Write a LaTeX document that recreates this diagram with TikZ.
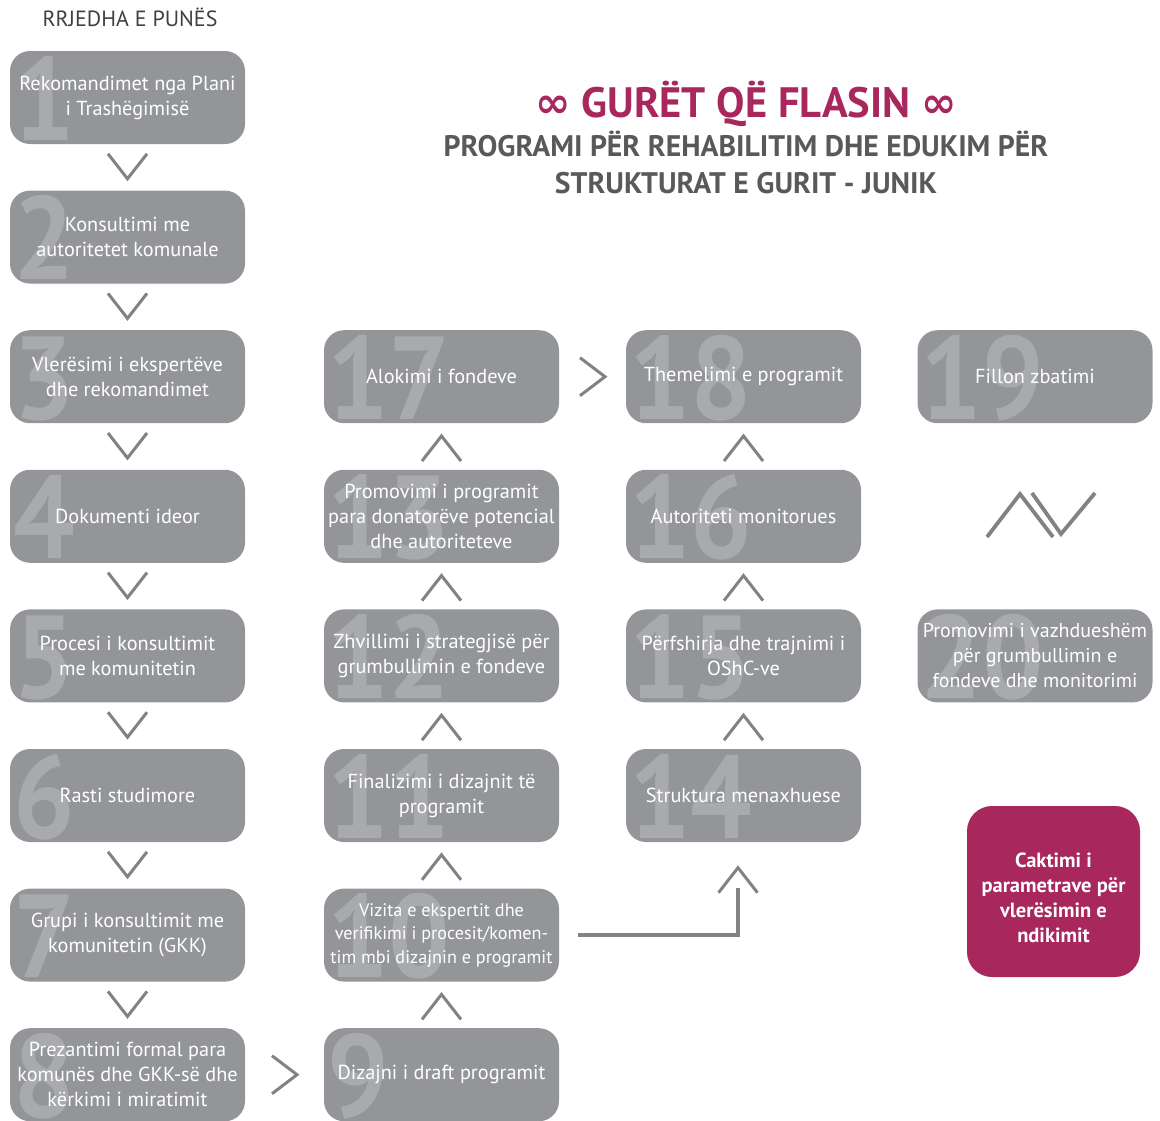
\documentclass[tikz,border=0pt]{standalone}
\usepackage{fontspec}
\setmainfont{PT Sans}
\newfontfamily\symfont{DejaVu Sans}
\usetikzlibrary{calc}
\definecolor{boxgray}{HTML}{939598}
\definecolor{numgray}{HTML}{A8AAAD}
\definecolor{chevgray}{HTML}{808285}
\definecolor{brandmag}{HTML}{A8285D}
\definecolor{titlegray}{HTML}{58595B}
\definecolor{headgray}{HTML}{404041}
\begin{document}
\begin{tikzpicture}[x=1pt,y=-1pt,
  box/.style={rounded corners=20pt, fill=boxgray, minimum width=235pt, minimum height=93pt,
    inner sep=0pt, align=center, text=white, font=\fontsize{20.3}{25}\selectfont,
    path picture={\node[anchor=base west, inner sep=0pt, outer sep=0pt, minimum width=0pt,
      minimum height=0pt, fill=none, draw=none, align=left, text=numgray,
      font=\fontsize{118}{118}\selectfont\bfseries]
      at ([xshift=3pt,yshift=4pt]path picture bounding box.south west) {\scalebox{0.92}[1]{#1}};}},
  box/.default={},
  chev/.style={draw=chevgray, line width=3pt},
  pics/vdown/.style={code={\draw[chev] (-19.5,-12.5) -- (0,12.5) -- (19.5,-12.5);}},
  pics/vup/.style={code={\draw[chev] (-19.5,12.5) -- (0,-12.5) -- (19.5,12.5);}},
  pics/vright/.style={code={\draw[chev] (-12.5,-19) -- (12.5,0) -- (-12.5,19);}},
]
\useasboundingbox (0,0) rectangle (1160,1120);

% header and title
\node[font=\fontsize{22}{24}\selectfont, text=headgray] (head) at (130,17) {RRJEDHA E PUNËS};
\node[font=\fontsize{42.5}{44}\selectfont\bfseries, text=brandmag] (title) at (746,104)
  {{\symfont ∞} GURËT QË FLASIN {\symfont ∞}};
\node[font=\fontsize{29.7}{37}\selectfont\bfseries, text=titlegray, align=center] (sub) at (746,162)
  {PROGRAMI PËR REHABILITIM DHE EDUKIM PËR\\STRUKTURAT E GURIT - JUNIK};

% column 1
\node[box=1] (b1) at (127.5,97.5) {Rekomandimet nga Plani\\i Trashëgimisë};
\node[box=2] (b2) at (127.5,237.1) {Konsultimi me\\autoritetet komunale};
\node[box=3] (b3) at (127.5,376.7) {Vlerësimi i ekspertëve\\dhe rekomandimet};
\node[box=4] (b4) at (127.5,516.3) {Dokumenti ideor};
\node[box=5] (b5) at (127.5,655.9) {Procesi i konsultimit\\me komunitetin};
\node[box=6] (b6) at (127.5,795.5) {Rasti studimore};
\node[box=7] (b7) at (127.5,935.1) {Grupi i konsultimit me\\komunitetin (GKK)};
\node[box=8] (b8) at (127.5,1074.7) {Prezantimi formal para\\komunës dhe GKK-së dhe\\kërkimi i miratimit};

% column 2
\node[box=9] (b9) at (441.5,1074.7) {Dizajni i draft programit};
\node[box=10, font=\fontsize{18.2}{23.5}\selectfont] (b10) at (441.5,935.1)
  {Vizita e ekspertit dhe\\verifikimi i procesit/komen-\\tim mbi dizajnin e programit};
\node[box=11] (b11) at (441.5,795.5) {Finalizimi i dizajnit të\\programit};
\node[box=12] (b12) at (441.5,655.9) {Zhvillimi i strategjisë për\\grumbullimin e fondeve};
\node[box=13] (b13) at (441.5,516.3) {Promovimi i programit\\para donatorëve potencial\\dhe autoriteteve};
\node[box=17] (b17) at (441.5,376.7) {Alokimi i fondeve};

% column 3
\node[box=14] (b14) at (743.5,795.5) {Struktura menaxhuese};
\node[box=15] (b15) at (743.5,655.9) {Përfshirja dhe trajnimi i\\OShC-ve};
\node[box=16] (b16) at (743.5,516.3) {Autoriteti monitorues};
\node[box=18] (b18) at (743.5,376.7) {Themelimi e programit};

% column 4
\node[box=19] (b19) at (1035,376.7) {Fillon zbatimi};
\node[box=20, font=\fontsize{20}{25}\selectfont] (b20) at (1035,655.9) {Promovimi i vazhdueshëm\\për grumbullimin e\\fondeve dhe monitorimi};
\node[rounded corners=25pt, fill=brandmag, minimum width=173pt, minimum height=171pt, inner sep=0pt] (mag) at (1053.5,891.5) {};
\node[align=center, text=white, inner sep=0pt, font=\fontsize{20.5}{25}\selectfont\bfseries] (magtext)
  at ($(mag.center)+(0,6)$) {Caktimi i\\parametrave për\\vlerësimin e\\ndikimit};

% chevrons column 1
\foreach \a/\b in {b1/b2,b2/b3,b3/b4,b4/b5,b5/b6,b6/b7,b7/b8}
  \pic at ($(\a.south)!0.5!(\b.north)+(0,-1)$) {vdown};
% chevrons column 2
\foreach \a/\b in {b9/b10,b10/b11,b11/b12,b12/b13,b13/b17}
  \pic at ($(\a.north)!0.5!(\b.south)+(0,2)$) {vup};
% chevrons column 3
\foreach \a/\b in {b14/b15,b15/b16,b16/b18}
  \pic at ($(\a.north)!0.5!(\b.south)+(0,2)$) {vup};
% horizontal chevrons
\pic at ($(b8.east)!0.5!(b9.west)$) {vright};
\pic at ($(b17.east)!0.5!(b18.west)$) {vright};

% connector 10 -> 14
\coordinate (c10) at ($(b10.east)+(19,0)$);
\coordinate (c14) at ($(b14.south)+(-5.5,46)$);
\draw[chev, line width=3.5pt] (c10) -| (c14);
\pic at ($(b14.south)+(-5.5,38)$) {vup};

% Lambda-V symbol
\draw[chev, line width=3.8pt] (987,537) -- (1020,494) -- (1053,537);
\draw[chev, line width=3.8pt] (1032,493) -- (1061,534) -- (1095,493);
\end{tikzpicture}
\end{document}
